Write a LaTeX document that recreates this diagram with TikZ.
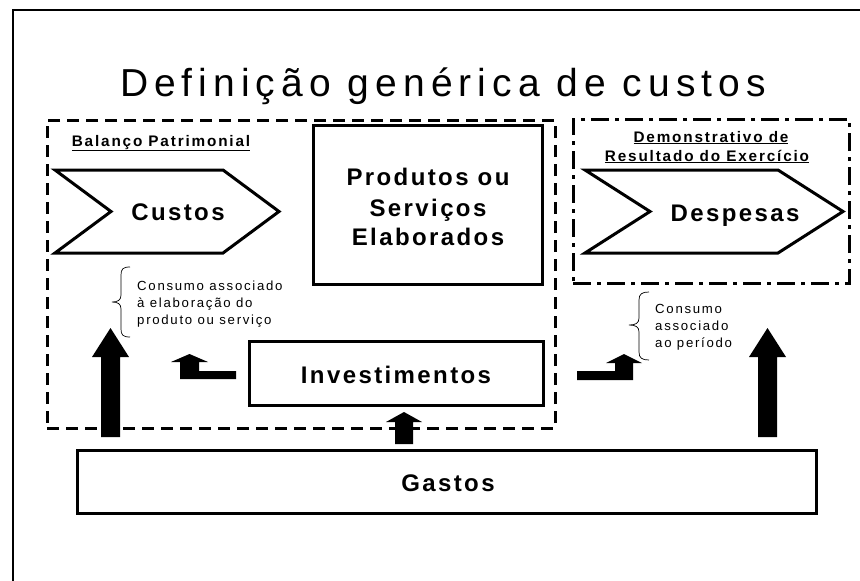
\documentclass[tikz,border=0pt]{standalone}
\usepackage{fontspec}
\setmainfont{Liberation Sans}
\newfontfamily\titlefam[LetterSpace=15.5]{Liberation Sans}
\newfontfamily\boldfam[LetterSpace=10]{Liberation Sans}
\newfontfamily\headfam[LetterSpace=12]{Liberation Sans}
\newfontfamily\notefam[LetterSpace=13]{Liberation Sans}
\begin{document}
\begin{tikzpicture}[x=1pt,y=-1pt,
  bigtxt/.style={font=\boldfam\bfseries\fontsize{24}{30}\selectfont, inner sep=0pt, anchor=base},
  headtxt/.style={font=\headfam\bfseries\fontsize{15.3}{19}\selectfont, inner sep=0pt, anchor=base},
  notetxt/.style={font=\notefam\fontsize{13.2}{17}\selectfont, inner sep=0pt, anchor=base west},
  blockarrow/.style={fill=black, draw=none},
  bracestyle/.style={draw, line width=0.7pt},
  shapeline/.style={draw, line width=3pt, line join=miter},
  boxline/.style={draw, line width=3pt, inner sep=0pt}
]
\useasboundingbox (0,0) rectangle (860,581);
% outer frame (cut by page edge)
\draw[line width=2pt] (12.5,600) -- (12.5,10) -- (880,10);

% title
\node[font=\titlefam\fontsize{39}{44}\selectfont, inner sep=0pt, anchor=base] (title) at (443,96) {Definição genérica de custos};

% grouping boxes
\node[boxline, dash pattern=on 12pt off 7pt, minimum width=508pt, minimum height=308pt] (bp) at (301,274) {};
\node[boxline, dash pattern=on 18pt off 6pt on 4pt off 6pt, minimum width=276pt, minimum height=164pt] (dre) at (711,201) {};

% headings
\node[headtxt] (bptitle) at (161,146) {\underline{Balanço Patrimonial}};
\node[headtxt] (dre1) at (711,142) {\underline{Demonstrativo de}};
\node[headtxt] (dre2) at (707,161) {\underline{Resultado do Exercício}};

% chevrons
\draw[shapeline] (55,170) -- (223,170) -- (279,211.5) -- (223,253) -- (55,253) -- (111,211.5) -- cycle;
\node[bigtxt] (custos) at (178,220) {Custos};
\draw[shapeline] (585,170) -- (778,170) -- (843,211.5) -- (778,253) -- (585,253) -- (650,211.5) -- cycle;
\node[bigtxt] (despesas) at (735,221) {Despesas};

% produtos box
\node[boxline, minimum width=229pt, minimum height=159pt] (prod) at (427.5,204.5) {};
\node[bigtxt] (prod1) at (428,185) {Produtos ou};
\node[bigtxt] (prod2) at (428,216.5) {Serviços};
\node[bigtxt] (prod3) at (428,245) {Elaborados};

% investimentos
\node[boxline, minimum width=294pt, minimum height=64pt] (inv) at (396,373) {};
\node[bigtxt] (invtxt) at (396,383) {Investimentos};

% gastos
\node[boxline, minimum width=739pt, minimum height=63pt] (gastos) at (446.5,481.5) {};
\node[bigtxt] (gastxt) at (448,491) {Gastos};

% braces and notes
\draw[bracestyle] (130,267) .. controls (123,267) and (121,269) .. (121,275) -- (121,295)
  .. controls (121,300) and (118,302) .. (112,302)
  .. controls (118,302) and (121,304) .. (121,309) -- (121,329)
  .. controls (121,335) and (123,337) .. (130,337);
\node[notetxt] (note1a) at (137,290) {Consumo associado};
\node[notetxt] (note1b) at (137,307) {à elaboração do};
\node[notetxt] (note1c) at (137,324) {produto ou serviço};

\draw[bracestyle] (649,292) .. controls (642,292) and (639,294) .. (639,300) -- (639,318)
  .. controls (639,323) and (636,325) .. (629,325)
  .. controls (636,325) and (639,327) .. (639,332) -- (639,352)
  .. controls (639,358) and (642,360) .. (649,360);
\node[notetxt] (note2a) at (655,313) {Consumo};
\node[notetxt] (note2b) at (655,330) {associado};
\node[notetxt] (note2c) at (655,347) {ao período};

% block arrows
\fill[blockarrow] (110.5,328) -- (129,357) -- (120,357) -- (120,437) -- (101,437) -- (101,357) -- (92,357) -- cycle;
\fill[blockarrow] (767.5,328) -- (786,357) -- (777,357) -- (777,437) -- (758,437) -- (758,357) -- (749,357) -- cycle;
\fill[blockarrow] (404,412) -- (422,422) -- (413,422) -- (413,444) -- (395,444) -- (395,422) -- (386,422) -- cycle;
\fill[blockarrow] (189.5,354) -- (208,362) -- (199,362) -- (199,371) -- (236,371) -- (236,379) -- (180,379) -- (180,362) -- (171,362) -- cycle;
\fill[blockarrow] (624,354) -- (642,363) -- (633,363) -- (633,380) -- (577,380) -- (577,371) -- (615,371) -- (615,363) -- (606,363) -- cycle;
\end{tikzpicture}
\end{document}
